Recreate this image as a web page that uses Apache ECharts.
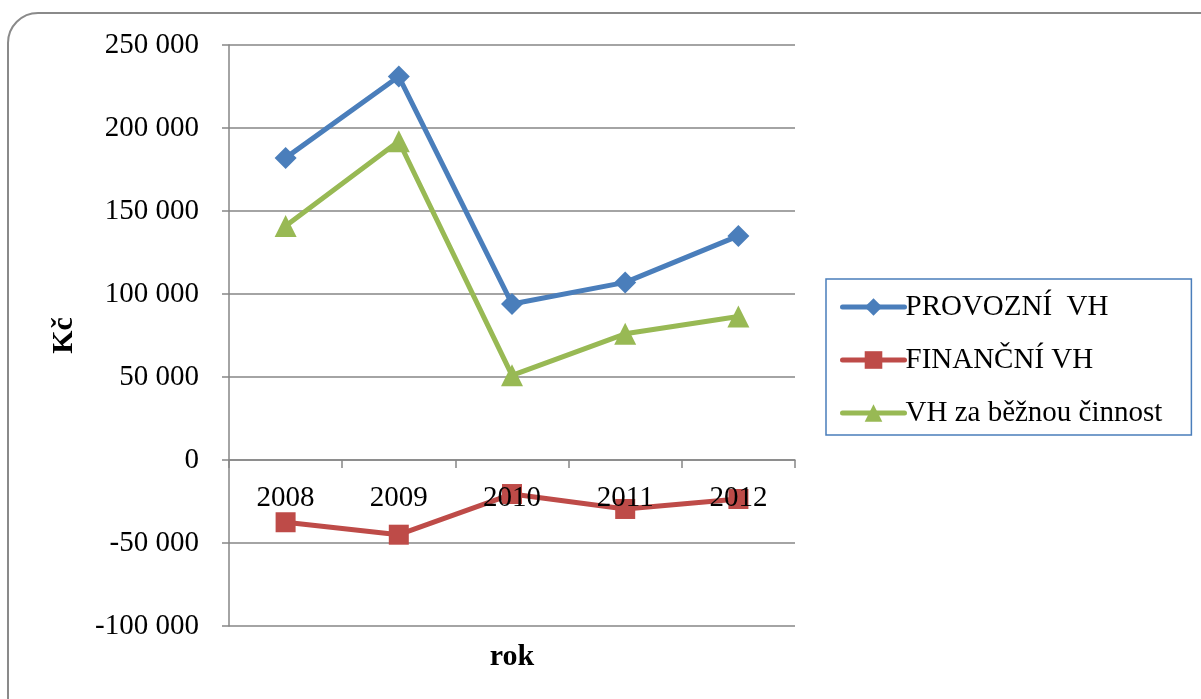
<!DOCTYPE html>
<html>
<head>
<meta charset="utf-8">
<script src="https://cdn.jsdelivr.net/npm/echarts@6/dist/echarts.min.js"></script>
<style>
  html, body { margin: 0; padding: 0; background: #fff; }
  #chart { width: 1201px; height: 699px; }
</style>
</head>
<body>
<div id="chart"></div>
<script>
// Years on the category axis
const years = ['2008', '2009', '2010', '2011', '2012'];

// Results per year in Kč
const provozniVH = [182000, 231000, 94000, 107000, 135000];
const financniVH = [-37500, -45000, -20500, -29500, -23500];
const beznaCinnostVH = [141000, 192000, 51000, 76000, 86500];

// Series names as shown in the legend
const seriesNames = ['PROVOZNÍ  VH', 'FINANČNÍ VH', 'VH za běžnou činnost'];

const serif = '"Liberation Serif", "DejaVu Serif", serif';
const gridGray = '#868686';

function fmt(v) {
  const s = Math.abs(v).toString().replace(/\B(?=(\d{3})+(?!\d))/g, ' ');
  return (v < 0 ? '-' : '') + s;
}

const chart = echarts.init(document.getElementById('chart'));

chart.setOption({
  animation: false,
  backgroundColor: '#fff',
  graphic: [{
    type: 'rect',
    shape: { x: 8, y: 13, width: 1260, height: 760, r: 30 },
    style: { fill: 'none', stroke: '#8a8a8a', lineWidth: 2 },
    silent: true
  }],
  grid: { left: 229, right: 406, top: 45, bottom: 73, outerBoundsMode: 'none', containLabel: false },
  legend: {
    orient: 'vertical',
    left: 826,
    top: 279,
    padding: [13, 29, 7, 14],
    itemGap: 23,
    itemWidth: 62,
    itemHeight: 22,
    borderColor: '#4a7ebb',
    borderWidth: 1.5,
    lineStyle: { width: 5, cap: 'round' },
    textStyle: { fontFamily: serif, fontSize: 29, lineHeight: 30, color: '#000', padding: [0, 0, 0, -4] },
    data: seriesNames
  },
  xAxis: {
    type: 'category',
    data: years,
    boundaryGap: true,
    z: 5,
    name: 'rok',
    nameLocation: 'middle',
    nameGap: 16,
    nameMoveOverlap: false,
    nameTextStyle: { fontFamily: serif, fontSize: 30, fontWeight: 'bold', color: '#000' },
    axisLine: { onZero: true, lineStyle: { color: gridGray, width: 1.5 } },
    axisTick: { show: true, length: 8, lineStyle: { color: gridGray, width: 1.5 } },
    // labels sit just below the zero line, inside the plot
    axisLabel: { fontFamily: serif, fontSize: 29, color: '#000', margin: -142 }
  },
  yAxis: {
    type: 'value',
    min: -100000,
    max: 250000,
    interval: 50000,
    name: 'Kč',
    nameLocation: 'middle',
    nameGap: 150,
    nameRotate: 90,
    nameTextStyle: { fontFamily: serif, fontSize: 30, fontWeight: 'bold', color: '#000' },
    axisLine: { show: true, lineStyle: { color: gridGray, width: 1.5 } },
    axisTick: { show: true, length: 7, lineStyle: { color: gridGray, width: 1.5 } },
    axisLabel: { fontFamily: serif, fontSize: 29, color: '#000', margin: 30, formatter: fmt },
    splitLine: { show: true, lineStyle: { color: gridGray, width: 1.5 } }
  },
  series: [
    {
      name: seriesNames[0],
      type: 'line',
      data: provozniVH,
      symbol: 'diamond',
      symbolSize: 22,
      itemStyle: { color: '#4a7ebb' },
      lineStyle: { color: '#4a7ebb', width: 5 },
      z: 3
    },
    {
      name: seriesNames[1],
      type: 'line',
      data: financniVH,
      symbol: 'rect',
      symbolSize: 20,
      itemStyle: { color: '#be4b48' },
      lineStyle: { color: '#be4b48', width: 5 },
      z: 3
    },
    {
      name: seriesNames[2],
      type: 'line',
      data: beznaCinnostVH,
      symbol: 'triangle',
      symbolSize: 22,
      itemStyle: { color: '#98b954' },
      lineStyle: { color: '#98b954', width: 5 },
      z: 3
    }
  ]
});
</script>
</body>
</html>
